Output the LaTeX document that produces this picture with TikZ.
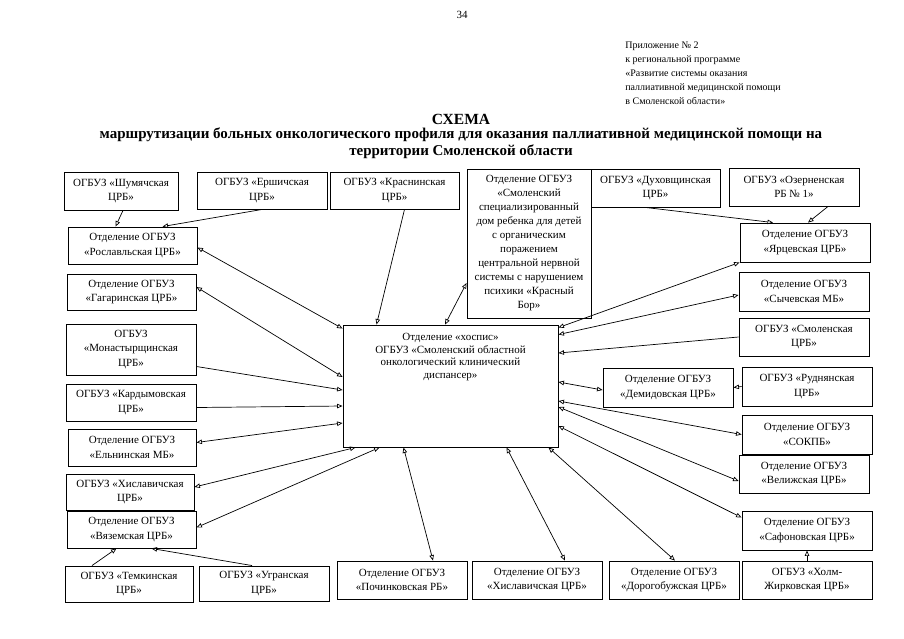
\documentclass[tikz,border=0pt]{standalone}
\usepackage{fontspec}
\setmainfont{Liberation Serif}
\usetikzlibrary{arrows.meta}

\begin{document}
\begin{tikzpicture}[x=1pt,y=-1pt,line width=0.7pt,>={Triangle[open,length=5.5pt,width=4.5pt]},
      box/.style={draw,line width=0.9pt,align=center,inner sep=1pt,minimum width=130pt,minimum height=38pt,
      font=\fontsize{11}{14.5}\selectfont},
      head/.style={inner sep=0pt,font=\fontsize{10}{14}\selectfont}]
			\useasboundingbox (0,0) rectangle (904,638);
			\node[head,font=\fontsize{11}{14}\selectfont] (page) at (462,15) {34};
			\node[head,anchor=north west,align=left] (appx) at (625,42) {Приложение № 2\\к региональной программе\\«Развитие системы оказания\\паллиативной медицинской помощи\\в Смоленской области»};
			\node[head,font=\bfseries\fontsize{15.5}{17}\selectfont] (schema) at (461,119) {СХЕМА};
			\node[head,align=center,font=\bfseries\fontsize{15}{17}\selectfont] (title) at (461,143) {маршрутизации больных онкологического профиля для оказания паллиативной медицинской помощи на\\территории Смоленской области};

			\node[box,minimum width=114pt] (shum) at (121,191) {ОГБУЗ «Шумячская\\ЦРБ»};
			\node[box,minimum height=37pt] (ersh) at (262,190.5) {ОГБУЗ «Ершичская\\ЦРБ»};
			\node[box,minimum width=129pt,minimum height=37pt] (krasn) at (394.5,190.5) {ОГБУЗ «Краснинская\\ЦРБ»};
			\node[box,minimum width=129pt,minimum height=37pt] (rosl) at (132.5,245.5) {Отделение ОГБУЗ\\«Рославльская ЦРБ»};
			\node[box,minimum width=129pt,minimum height=36pt] (gagar) at (131.5,292) {Отделение ОГБУЗ\\«Гагаринская ЦРБ»};
			\node[box,minimum height=51pt] (monast) at (131,349.5) {ОГБУЗ\\«Монастырщинская\\ЦРБ»};
			\node[box,minimum height=37pt] (kardym) at (131,402.5) {ОГБУЗ «Кардымовская\\ЦРБ»};
			\node[box,minimum width=128pt,minimum height=37pt] (yeln) at (132,447.5) {Отделение ОГБУЗ\\«Ельнинская МБ»};
			\node[box,minimum width=128pt,minimum height=36pt] (khislL) at (130,492) {ОГБУЗ «Хиславичская\\ЦРБ»};
			\node[box,minimum width=129pt,minimum height=37pt] (vyaz) at (131.5,529.5) {Отделение ОГБУЗ\\«Вяземская ЦРБ»};
			\node[box,minimum width=128pt,minimum height=36pt] (temk) at (129,584) {ОГБУЗ «Темкинская\\ЦРБ»};
			\node[box,minimum height=35pt] (ugran) at (264,583.5) {ОГБУЗ «Угранская\\ЦРБ»};
			\node[box] (pochin) at (402,580) {Отделение ОГБУЗ\\«Починковская РБ»};
			\node[box] (khislB) at (537,580) {Отделение ОГБУЗ\\«Хиславичская ЦРБ»};
			\node[box] (dorog) at (674,580) {Отделение ОГБУЗ\\«Дорогобужская ЦРБ»};
			\node[box] (kholm) at (807,580) {ОГБУЗ «Холм-\\Жирковская ЦРБ»};
			\node[box,minimum height=39pt] (safon) at (807,530.5) {Отделение ОГБУЗ\\«Сафоновская ЦРБ»};
			\node[box] (velizh) at (804,474) {Отделение ОГБУЗ\\«Велижская ЦРБ»};
			\node[box,minimum height=39pt] (sokpb) at (807,434.5) {Отделение ОГБУЗ\\«СОКПБ»};
			\node[box,minimum height=39pt] (rudn) at (807,386.5) {ОГБУЗ «Руднянская\\ЦРБ»};
			\node[box,minimum height=39pt] (demid) at (668,387.5) {Отделение ОГБУЗ\\«Демидовская ЦРБ»};
			\node[box] (smolR) at (804,337) {ОГБУЗ «Смоленская\\ЦРБ»};
			\node[box,minimum height=39pt] (sych) at (804,291.5) {Отделение ОГБУЗ\\«Сычевская МБ»};
			\node[box,minimum height=39pt] (yarts) at (805,242.5) {Отделение ОГБУЗ\\«Ярцевская ЦРБ»};
			\node[box] (ozern) at (794,187) {ОГБУЗ «Озерненская\\РБ № 1»};
			\node[box,minimum width=129pt] (dukh) at (655.5,188) {ОГБУЗ «Духовщинская\\ЦРБ»};
			\node[box,minimum width=124pt,minimum height=149pt,font=\fontsize{11}{14}\selectfont] (bor) at (529,243.5) {Отделение ОГБУЗ\\«Смоленский\\специализированный\\дом ребенка для детей\\с органическим\\поражением\\центральной нервной\\системы с нарушением\\психики «Красный\\Бор»};
			\node[box,minimum width=215pt,minimum height=122pt,
				label={[anchor=north,align=center,yshift=-5pt,font=\fontsize{11}{12.5}\selectfont]north:{Отделение «хоспис»\\ОГБУЗ «Смоленский областной\\онкологический клинический\\диспансер»}}] (hosp) at (450.5,386) {};

			\path[->]
				([xshift=2pt]shum.south) edge ([xshift=-17pt]rosl.north)
				(ersh.south) edge ([xshift=30pt]rosl.north)
				([xshift=10pt]krasn.south) edge ([xshift=-74pt]hosp.north)
				([yshift=-17pt]monast.east) edge ([yshift=-4pt]hosp.west)
				([yshift=-5pt]kardym.east) edge ([yshift=-20pt]hosp.west)
				([xshift=-37pt]temk.north) edge ([xshift=-15pt]vyaz.south)
				([xshift=-12pt]ugran.north) edge ([xshift=20pt]vyaz.south)
				(kholm.north) edge (safon.south)
				(rudn.west) edge (demid.east)
				(smolR.west) edge ([yshift=33pt]hosp.east)
				([xshift=-10pt]dukh.south) edge ([xshift=-32pt]yarts.north)
				([xshift=34pt]ozern.south) edge ([xshift=3pt]yarts.north);
			\path[<->]
				([yshift=-2pt]rosl.east) edge ([yshift=-4pt]hosp.north west)
				([yshift=5pt]gagar.east) edge ([yshift=9pt]hosp.west)
				([yshift=5pt]yeln.east) edge ([yshift=-37pt]hosp.west)
				([yshift=5pt]khislL.east) edge ([xshift=13pt]hosp.south west)
				([yshift=2pt]vyaz.east) edge ([xshift=37pt]hosp.south west)
				([xshift=31pt]pochin.north) edge ([xshift=-47pt]hosp.south)
				([xshift=28pt]khislB.north) edge ([xshift=56pt]hosp.south)
				([xshift=1pt]dorog.north) edge ([xshift=-10pt]hosp.south east)
				([yshift=13pt]safon.west) edge ([yshift=-40pt]hosp.east)
				([yshift=-7pt]velizh.west) edge ([yshift=-21pt]hosp.east)
				(sokpb.west) edge ([yshift=-15pt]hosp.east)
				([yshift=-2.5pt]demid.west) edge ([yshift=4pt]hosp.east)
				([yshift=-3.5pt]sych.west) edge ([yshift=-10pt]hosp.north east)
				(yarts.south west) edge ([yshift=-3pt]hosp.north east)
				([yshift=-39.5pt]bor.west) edge ([xshift=-5.5pt]hosp.north);
		\end{tikzpicture}
\end{document}
